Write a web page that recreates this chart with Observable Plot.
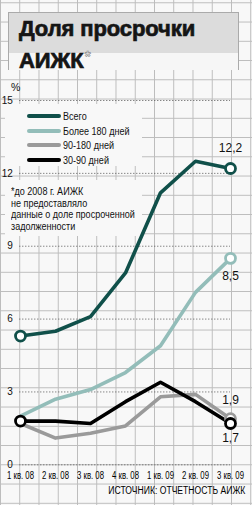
<!DOCTYPE html>
<html>
<head>
<meta charset="utf-8">
<script src="https://cdn.jsdelivr.net/npm/d3@7"></script>
<script src="https://cdn.jsdelivr.net/npm/@observablehq/plot@0.6"></script>
<style>
  html, body { margin: 0; padding: 0; background: #f8f8f8; }
  #wrap {
    position: relative; width: 252px; height: 505px; overflow: hidden;
    background-color: #f8f8f8;
    background-image:
      linear-gradient(to right, #bcbcbc 1px, transparent 1px),
      linear-gradient(to bottom, #bcbcbc 1px, transparent 1px);
    background-size: 19.25px 19.25px;
    background-position: 0px 2.3px;
    font-family: "Liberation Sans", Arial, sans-serif;
  }
  .abs { position: absolute; }
  #titlebox {
    left: 8px; top: 12px; width: 231px; height: 58px; box-sizing: border-box;
    border: 1px solid #aaa; border-bottom: none;
    background: linear-gradient(to bottom, #dcdcdc 0px, #dcdcdc 40px, #f6f6f6 40px);
  }
  #title {
    left: 19px; top: 15px; font-family: "Liberation Sans", Arial, sans-serif;
    font-weight: bold; font-size: 22px; line-height: 27px; color: #151515;
    -webkit-text-stroke: 0.7px #151515; letter-spacing: -0.1px;
  }
  #title sup { font-size: 15px; color: #f4f4f4; -webkit-text-stroke: 0.6px #888; vertical-align: 7px; margin-left: 1px; }
  .box { background: #f8f8f8; }
  #legend { left: 5px; top: 104px; width: 137px; height: 62px; }
  #foot { left: 5px; top: 180px; width: 137px; height: 56px; }
  .lg { position: absolute; left: 0; height: 14px; font-size: 10.5px; color: #111; }
  .lg span.sw { position: absolute; left: 22px; top: 5px; width: 34px; height: 4px; border-radius: 2px; }
  .lg span.tx { position: absolute; left: 58px; top: 0px; white-space: nowrap; line-height: 14px;
    transform: scaleX(0.86); transform-origin: left center; }
  #foottext { left: 11px; top: 186px; font-size: 10.5px; line-height: 11.6px; color: #111; white-space: nowrap;
    transform: scaleX(0.86); transform-origin: left top; }
  #pct { left: 11px; top: 81px; font-size: 10.5px; color: #111; }
  #source { right: 7px; top: 485px; font-size: 10px; color: #000; white-space: nowrap;
    transform: scaleX(0.86); transform-origin: right center; }
  #chart { position: absolute; left: 0; top: 0; }
</style>
</head>
<body>
<div id="wrap">
  <div class="abs" id="titlebox"></div>
  <div class="abs" id="title">Доля просрочки<br>АИЖК<sup>*</sup></div>
  <div class="abs box" id="legend"></div>
  <div class="abs box" id="foot"></div>
  <div class="abs" id="foottext"></div>
  <div class="abs" id="pct">%</div>
  <div id="chart"></div>
  <div class="abs" id="source"></div>
</div>
<script>
// ---- data ----
const quarters = ["1 кв. 08", "2 кв. 08", "3 кв. 08", "4 кв. 08", "1 кв. 09", "2 кв. 09", "3 кв. 09"];
const total     = [5.3, 5.5, 6.1, 7.9, 11.2, 12.5, 12.2];
const over180   = [2.0, 2.7, 3.1, 3.8, 4.9, 7.1, 8.5];
const d90to180  = [1.7, 1.1, 1.3, 1.6, 2.8, 2.9, 1.9];
const d30to90   = [1.8, 1.8, 1.7, 2.6, 3.4, 2.6, 1.7];
const seriesNames = ["Всего", "Более 180 дней", "90-180 дней", "30-90 дней"];
const yTicks = [0, 3, 6, 9, 12, 15];
const footnote = ["*до 2008 г. АИЖК", "не предоставляло", "данные о доле просроченной", "задолженности"];
const sourceText = "ИСТОЧНИК: ОТЧЕТНОСТЬ АИЖК";

// ---- styles ----
const colors = ["#10504a", "#93bdb9", "#9a9a9a", "#000000"];
const valuesBySeries = [total, over180, d90to180, d30to90];
const labelDy = [-20, 17.5, -18.5, 15];   // end-label offsets (style)
const drawOrder = [2, 1, 3, 0];
const startDots = [0, 3];                  // series with an opening circle

const rows = (i) => valuesBySeries[i].map((v, j) => ({q: quarters[j], v, s: seriesNames[i]}));
const fmt = (v) => String(v).replace(".", ",");

const marks = [
  Plot.ruleY(yTicks, {y: d => d, stroke: "#555", strokeWidth: 1, strokeDasharray: "1,2"}),
  Plot.axisY(yTicks, {tickSize: 0, tickPadding: 7, label: null, fontSize: 10, fill: "#111"}),
  Plot.axisX({tickSize: 0, tickPadding: 6.5, label: null, fontSize: 10.5, fill: "#000"})
];
for (const i of drawOrder) {
  marks.push(Plot.line(rows(i), {x: "q", y: "v", stroke: colors[i], strokeWidth: 3.6, strokeLinejoin: "round", strokeLinecap: "round"}));
}
for (const i of drawOrder) {
  const r = rows(i);
  const pts = startDots.includes(i) ? [r[0], r[r.length - 1]] : [r[r.length - 1]];
  marks.push(Plot.dot(pts, {x: "q", y: "v", r: 5, fill: "white", stroke: colors[i], strokeWidth: 2.8}));
}
for (let i = 0; i < 4; i++) {
  const r = rows(i);
  const last = r[r.length - 1];
  marks.push(Plot.text([last], {x: "q", y: "v", text: d => fmt(d.v), dy: labelDy[i],
    fontSize: 12, fill: "#111", fontFamily: "Liberation Sans, Arial, sans-serif"}));
}

const plot = Plot.plot({
  width: 252, height: 505,
  marginLeft: 19.3, marginRight: 22, marginTop: 100, marginBottom: 40.7,
  x: {type: "point", domain: quarters, padding: 0},
  y: {domain: [0, 15]},
  style: {background: "transparent", fontFamily: "'Liberation Sans', Arial, sans-serif", overflow: "visible"},
  marks
});
document.getElementById("chart").appendChild(plot);

// condense x tick labels horizontally
plot.querySelectorAll('[aria-label="x-axis tick label"] text').forEach(t => {
  const tr = t.getAttribute("transform") || "";
  t.setAttribute("transform", tr + " scale(0.74,1)");
});

// legend
const legend = document.getElementById("legend");
const legendTops = [5, 19.5, 34, 48.5];
seriesNames.forEach((name, i) => {
  const row = document.createElement("div");
  row.className = "lg";
  row.style.top = legendTops[i] + "px";
  row.innerHTML = `<span class="sw" style="background:${colors[i]}"></span><span class="tx">${name}</span>`;
  legend.appendChild(row);
});
document.getElementById("foottext").innerHTML = footnote.join("<br>");
document.getElementById("source").textContent = sourceText;
</script>
</body>
</html>
